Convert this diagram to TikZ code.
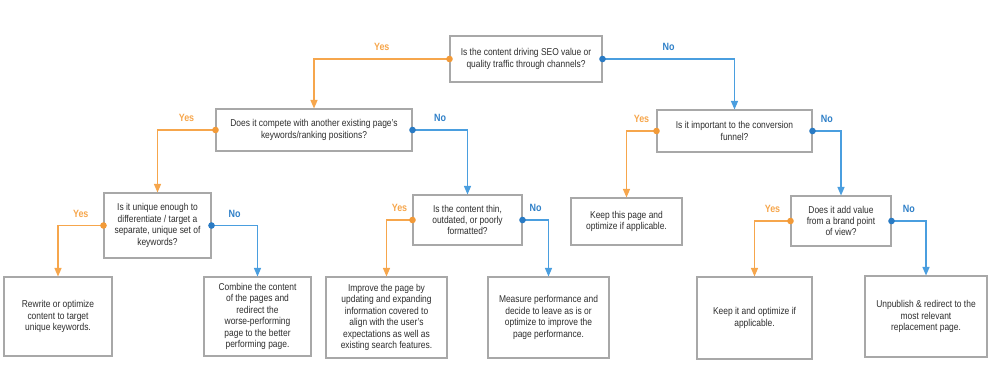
\documentclass[tikz,border=0pt]{standalone}
\usepackage{fontspec}
\setmainfont{Liberation Sans}[FakeStretch=0.85]
\usetikzlibrary{positioning, arrows.meta}

\definecolor{yesline}{HTML}{F6A64C}
\definecolor{yesdot}{HTML}{F29A38}
\definecolor{noline}{HTML}{4A9EDF}
\definecolor{nodot}{HTML}{2A7BC4}
\definecolor{boxgray}{HTML}{A8A8A8}
\definecolor{txtgray}{HTML}{2E2E2E}

\begin{document}
\begin{tikzpicture}[
    x=0.02cm, y=-0.02cm,
    font=\fontsize{5.65pt}{6.5pt}\selectfont,
    qbox/.style={rectangle, draw=boxgray, line width=0.6pt, fill=white, align=center, text=txtgray, inner sep=0pt},
    abox/.style={qbox},
    yesarr/.style={draw=yesline, line width=0.7pt, shorten <=-0.065cm,
        {Circle[length=0.13cm, color=yesdot]}-{Triangle[length=0.17cm, width=0.14cm]}},
    noarr/.style={draw=noline, line width=0.7pt, shorten <=-0.065cm,
        {Circle[length=0.13cm, color=nodot]}-{Triangle[length=0.17cm, width=0.14cm]}},
    yeslbl/.style={text=yesline, font=\fontsize{6pt}{6.5pt}\selectfont\bfseries, inner sep=0pt, above=0.15cm, pos=0.25},
    nolbl/.style={text=nodot!85!noline, font=\fontsize{6pt}{6.5pt}\selectfont\bfseries, inner sep=0pt, above=0.15cm, pos=0.25}
]
\useasboundingbox (0,0) rectangle (1000,373);

\node[qbox, minimum width=3.04cm, minimum height=0.92cm] (seo) at (526, 59)
    {Is the content driving SEO value or\\quality traffic through channels?};
\node[qbox, minimum width=3.92cm, minimum height=0.84cm] (compete) at (314, 130)
    {Does it compete with another existing page’s\\keywords/ranking positions?};
\node[qbox, minimum width=2.14cm, minimum height=1.30cm] (unique) at (157.5, 225.5)
    {Is it unique enough to\\differentiate / target a\\separate, unique set of\\keywords?};
\node[abox, minimum width=2.16cm, minimum height=1.58cm] (rewrite) at (58, 316.5)
    {Rewrite or optimize\\content to target\\unique keywords.};
\node[abox, minimum width=2.14cm, minimum height=1.58cm] (combine) at (257.5, 316.5)
    {Combine the content\\of the pages and\\redirect the\\worse-performing\\page to the better\\performing page.};
\node[qbox, minimum width=2.18cm, minimum height=1.00cm] (thin) at (467.5, 220)
    {Is the content thin,\\outdated, or poorly\\formatted?};
\node[abox, minimum width=2.42cm, minimum height=1.62cm] (improve) at (386.5, 317.5)
    {Improve the page by\\updating and expanding\\information covered to\\align with the user’s\\expectations as well as\\existing search features.};
\node[abox, minimum width=2.42cm, minimum height=1.62cm] (measure) at (548.5, 317.5)
    {Measure performance and\\decide to leave as is or\\optimize to improve the\\page performance.};
\node[qbox, minimum width=3.10cm, minimum height=0.84cm] (funnel) at (734.5, 131)
    {Is it important to the conversion\\funnel?};
\node[abox, minimum width=2.22cm, minimum height=0.94cm] (keeppage) at (626.5, 221.5)
    {Keep this page and\\optimize if applicable.};
\node[qbox, minimum width=2.00cm, minimum height=1.00cm] (brand) at (841, 221)
    {Does it add value\\from a brand point\\of view?};
\node[abox, minimum width=2.30cm, minimum height=1.64cm] (keepit) at (754.5, 318)
    {Keep it and optimize if\\applicable.};
\node[abox, minimum width=2.44cm, minimum height=1.62cm] (unpublish) at (926, 316.5)
    {Unpublish \& redirect to the\\most relevant\\replacement page.};

\draw[yesarr] (seo.west) -| (compete.north) node[yeslbl] (seoYes) {Yes};
\draw[noarr] (seo.east) -| (funnel.north) node[nolbl] (seoNo) {No};

\draw[yesarr] (compete.west) -| (unique.north) node[yeslbl] (competeYes) {Yes};
\draw[noarr] (compete.east) -| (thin.north) node[nolbl] (competeNo) {No};

\draw[yesarr] (unique.west) -| (rewrite.north) node[yeslbl] (uniqueYes) {Yes};
\draw[noarr] (unique.east) -| (combine.north) node[nolbl] (uniqueNo) {No};

\draw[yesarr] (thin.west) -| (improve.north) node[yeslbl] (thinYes) {Yes};
\draw[noarr] (thin.east) -| (measure.north) node[nolbl] (thinNo) {No};

\draw[yesarr] (funnel.west) -| (keeppage.north) node[yeslbl] (funnelYes) {Yes};
\draw[noarr] (funnel.east) -| (brand.north) node[nolbl] (funnelNo) {No};

\draw[yesarr] (brand.west) -| (keepit.north) node[yeslbl] (brandYes) {Yes};
\draw[noarr] (brand.east) -| (unpublish.north) node[nolbl] (brandNo) {No};
\end{tikzpicture}
\end{document}
